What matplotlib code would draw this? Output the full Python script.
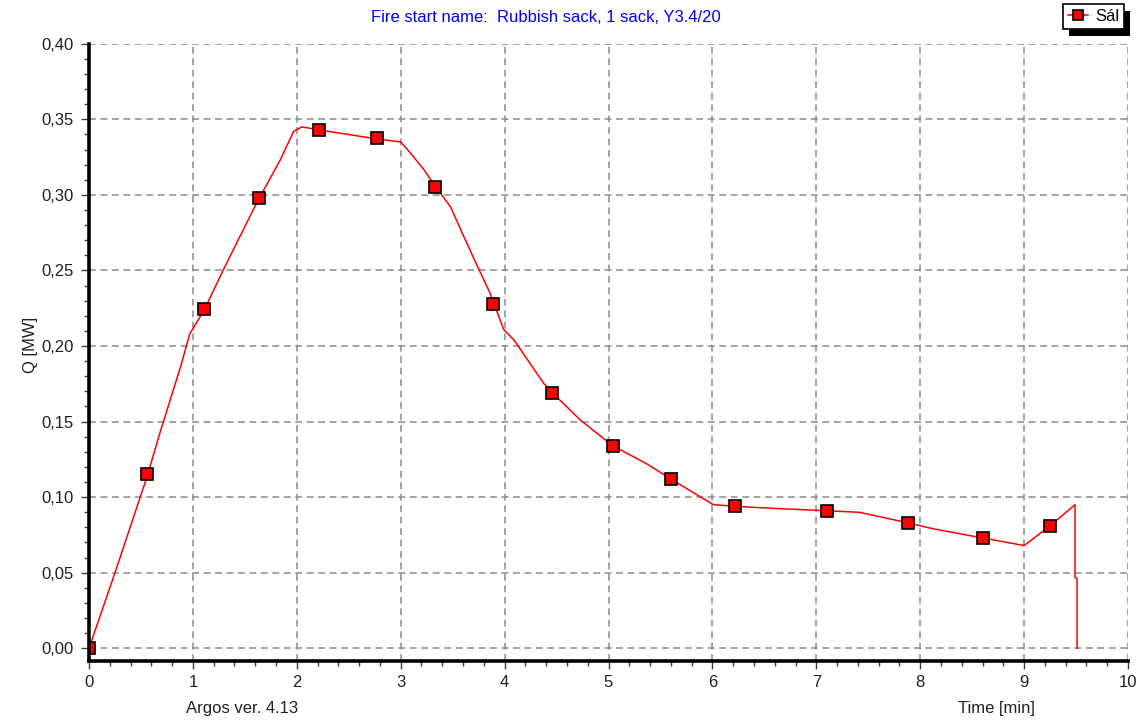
import matplotlib
matplotlib.use("Agg")
import matplotlib.pyplot as plt
from matplotlib.ticker import MultipleLocator, FuncFormatter
from matplotlib.lines import Line2D
from matplotlib.patches import Rectangle
from matplotlib.transforms import IdentityTransform

plt.rcParams['font.family'] = ['Liberation Sans', 'DejaVu Sans']

# ---- data ----
title = "Fire start name:  Rubbish sack, 1 sack, Y3.4/20"
series_name = "Sál"

time_line = [0, 0.25, 0.556, 0.68, 0.88, 0.97, 1.11, 1.29, 1.58, 1.64, 1.84, 1.97,
             2.05, 2.21, 2.77, 3.0, 3.09, 3.22, 3.33, 3.48, 3.61, 3.74, 3.86, 3.99,
             4.09, 4.22, 4.38, 4.46, 4.73, 5.04, 5.37, 5.60, 6.01, 6.22, 6.46, 7.10,
             7.41, 7.55, 7.88, 8.13, 8.60, 9.0, 9.25, 9.49, 9.49, 9.51, 9.51]
q_line = [0, 0.05, 0.113, 0.142, 0.186, 0.208, 0.224, 0.250, 0.290, 0.298, 0.323, 0.342,
          0.345, 0.343, 0.337, 0.335, 0.328, 0.317, 0.306, 0.292, 0.272, 0.2525, 0.235, 0.211,
          0.204, 0.191, 0.175, 0.169, 0.151, 0.134, 0.122, 0.112, 0.095, 0.094, 0.093, 0.091,
          0.090, 0.088, 0.083, 0.079, 0.073, 0.068, 0.081, 0.095, 0.047, 0.046, 0.0]

time_marks = [0, 0.556, 1.11, 1.64, 2.21, 2.77, 3.33, 3.89, 4.46, 5.04, 5.60, 6.22,
              7.10, 7.88, 8.60, 9.25]
q_marks = [0, 0.1152, 0.2243, 0.2978, 0.343, 0.3373, 0.3055, 0.2276, 0.169, 0.134,
           0.1119, 0.0942, 0.0909, 0.0832, 0.0733, 0.081]

x_label = "Time [min]"
y_label = "Q [MW]"
footer = "Argos ver. 4.13"

# ---- figure ----
W, H = 1140, 722
fig = plt.figure(figsize=(W / 100, H / 100), dpi=100)
ax = fig.add_axes([89 / W, 1 - 661 / H, (1128 - 89) / W, (661 - 43.7) / H])

red = '#ff0000'
ax.plot(time_line, q_line, color=red, lw=1.1, zorder=3)
ax.plot(time_marks, q_marks, ls='none', marker='s', ms=8, mfc=red, mec='black',
        mew=1.2, zorder=4)

ax.set_xlim(0, 10)
ax.set_ylim(-0.0084, 0.40)

ax.xaxis.set_major_locator(MultipleLocator(1))
ax.xaxis.set_minor_locator(MultipleLocator(0.2))
ax.yaxis.set_major_locator(MultipleLocator(0.05))
ax.yaxis.set_minor_locator(MultipleLocator(0.01))
ax.yaxis.set_major_formatter(FuncFormatter(lambda v, p: f"{v:.2f}".replace('.', ',')))

ax.grid(True, which='major', color='#8a8a8a', ls=(0, (4.5, 3)), lw=1.1, zorder=1)

for s in ('top', 'right'):
    ax.spines[s].set_visible(False)
for s in ('left', 'bottom'):
    ax.spines[s].set_linewidth(2.6)
    ax.spines[s].set_color('black')
    ax.spines[s].set_zorder(5)

ax.tick_params(axis='both', which='major', direction='out', length=6, width=1,
               color='#404040', labelsize=12, labelcolor='#202020')
ax.tick_params(axis='both', which='minor', direction='out', length=3.5, width=1,
               color='#404040')
ax.tick_params(axis='x', which='major', pad=4)
ax.tick_params(axis='y', which='major', pad=5)

# texts
fig.text(546 / W, 1 - 18 / H, title, color='#0000ff', fontsize=12,
         ha='center', va='center')
fig.text(30 / W, 1 - 345 / H, y_label, rotation=90, fontsize=12,
         ha='center', va='center', color='#202020')
fig.text(242 / W, 1 - 708 / H, footer, fontsize=12, ha='center', va='center',
         color='#202020')
fig.text(996 / W, 1 - 708 / H, x_label, fontsize=12, ha='center', va='center',
         color='#202020')

# legend
handle = Line2D([], [], color=red, lw=1.1, marker='s', ms=7, mfc=red, mec='black',
                mew=1.2)
leg = fig.legend([handle], [series_name], loc='upper right',
                 bbox_to_anchor=(1124 / W, 1 - 4 / H), bbox_transform=fig.transFigure,
                 borderaxespad=0, fancybox=False, framealpha=1, edgecolor='black',
                 fontsize=12, handlelength=1.2, handletextpad=0.4, borderpad=0.3,
                 numpoints=1)
leg.get_frame().set_linewidth(1.2)
leg.set_zorder(10)

# hard black drop shadow behind the legend box
fig.canvas.draw()
bb = leg.get_frame().get_window_extent(fig.canvas.get_renderer())
shadow = Rectangle((bb.x0 + 6, bb.y0 - 7), bb.width, bb.height,
                   transform=IdentityTransform(), facecolor='black',
                   edgecolor='none', zorder=9)
fig.add_artist(shadow)

fig.savefig('out.png', dpi=100)
